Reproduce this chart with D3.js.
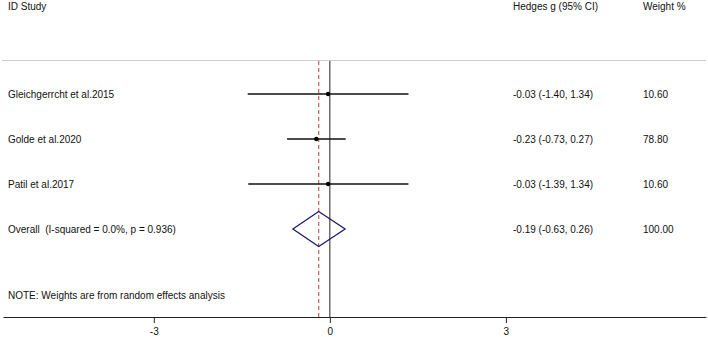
<!DOCTYPE html>
<html>
<head>
<meta charset="utf-8">
<script src="https://cdn.jsdelivr.net/npm/d3@7"></script>
<style>
body { margin: 0; background: #fff; }
svg text { font-family: "Liberation Sans", Arial, sans-serif; font-size: 10px; fill: #111; white-space: pre; }
</style>
</head>
<body>
<svg id="chart"></svg>
<script>
// study data
var studies = ["Gleichgerrcht et al.2015", "Golde et al.2020", "Patil et al.2017"];
var effects = [-0.03, -0.23, -0.03];
var lower = [-1.40, -0.73, -1.39];
var upper = [1.34, 0.27, 1.34];
var weights = ["10.60", "78.80", "10.60"];

var overallLabel = "Overall  (I-squared = 0.0%, p = 0.936)";
var overall = { est: -0.19, lo: -0.63, hi: 0.26, weight: "100.00" };

var tickValues = [-3, 0, 3];
var note = "NOTE: Weights are from random effects analysis";

var width = 708, height = 337;

var svg = d3.select("#chart")
	.attr("width", width)
	.attr("height", height);

// x scale: 0 sits at 330px, 3 units ~ 176px
var x = d3.scaleLinear()
	.domain([-5.57, 6.41])
	.range([3, 706]);

// rows: 0..2 studies, 3 overall
var y = d3.scalePoint()
	.domain(d3.range(4))
	.range([94, 229]);

var plotTop = 61, axisY = 317;

// header
svg.append("text").attr("x", 8).attr("y", 10).text("ID Study");
svg.append("text").attr("x", 513).attr("y", 10).text("Hedges g (95% CI)");
svg.append("text").attr("x", 643).attr("y", 10).text("Weight %");

// light separator line
svg.append("line")
	.attr("x1", 2).attr("x2", 706)
	.attr("y1", plotTop - 0.5).attr("y2", plotTop - 0.5)
	.attr("stroke", "#cfcfcf")
	.attr("stroke-width", 1.2);

// no-effect line
svg.append("line")
	.attr("x1", x(0)).attr("x2", x(0))
	.attr("y1", plotTop).attr("y2", axisY)
	.attr("stroke", "#222")
	.attr("stroke-width", 1);

// overall effect dashed line
svg.append("line")
	.attr("x1", x(overall.est)).attr("x2", x(overall.est))
	.attr("y1", plotTop).attr("y2", axisY)
	.attr("stroke", "#c0605c")
	.attr("stroke-width", 1.2)
	.attr("stroke-dasharray", "4,3");

// study rows
var rows = svg.append("g").selectAll("g")
	.data(studies)
	.enter().append("g");

rows.append("line")
	.attr("x1", function(d, i) { return x(lower[i]); })
	.attr("x2", function(d, i) { return x(upper[i]); })
	.attr("y1", function(d, i) { return y(i); })
	.attr("y2", function(d, i) { return y(i); })
	.attr("stroke", "#111")
	.attr("stroke-width", 1.4);

rows.append("circle")
	.attr("cx", function(d, i) { return x(effects[i]); })
	.attr("cy", function(d, i) { return y(i); })
	.attr("r", 2.2)
	.attr("fill", "#000");

rows.append("text")
	.attr("x", 8)
	.attr("y", function(d, i) { return y(i) + 3.5; })
	.text(function(d) { return d; });

rows.append("text")
	.attr("x", 513)
	.attr("y", function(d, i) { return y(i) + 3.5; })
	.text(function(d, i) {
		return effects[i].toFixed(2) + " (" + lower[i].toFixed(2) + ", " + upper[i].toFixed(2) + ")";
	});

rows.append("text")
	.attr("x", 643)
	.attr("y", function(d, i) { return y(i) + 3.5; })
	.text(function(d, i) { return weights[i]; });

// overall diamond
var oy = y(3);
svg.append("path")
	.attr("d", "M" + x(overall.lo) + "," + oy +
		"L" + x(overall.est) + "," + (oy - 17.5) +
		"L" + x(overall.hi) + "," + oy +
		"L" + x(overall.est) + "," + (oy + 17.5) + "Z")
	.attr("fill", "none")
	.attr("stroke", "#1c1c6b")
	.attr("stroke-width", 1.3);

svg.append("text").attr("x", 8).attr("y", oy + 3.5).text(overallLabel);
svg.append("text").attr("x", 513).attr("y", oy + 3.5)
	.text(overall.est.toFixed(2) + " (" + overall.lo.toFixed(2) + ", " + overall.hi.toFixed(2) + ")");
svg.append("text").attr("x", 643).attr("y", oy + 3.5).text(overall.weight);

svg.append("text").attr("x", 8).attr("y", 299).text(note);

// x axis
var axis = svg.append("g")
	.attr("transform", "translate(0," + axisY + ")")
	.call(d3.axisBottom(x).tickValues(tickValues).tickFormat(function(d) { return String(d); })
		.tickSize(6).tickPadding(5).tickSizeOuter(0));

axis.select(".domain").attr("stroke", "#222").attr("stroke-width", 1.2);
axis.selectAll(".tick line").attr("stroke", "#222");
axis.selectAll(".tick text")
	.style("font-family", "Liberation Sans, Arial, sans-serif")
	.style("font-size", "10px")
	.attr("fill", "#111");
</script>
</body>
</html>
